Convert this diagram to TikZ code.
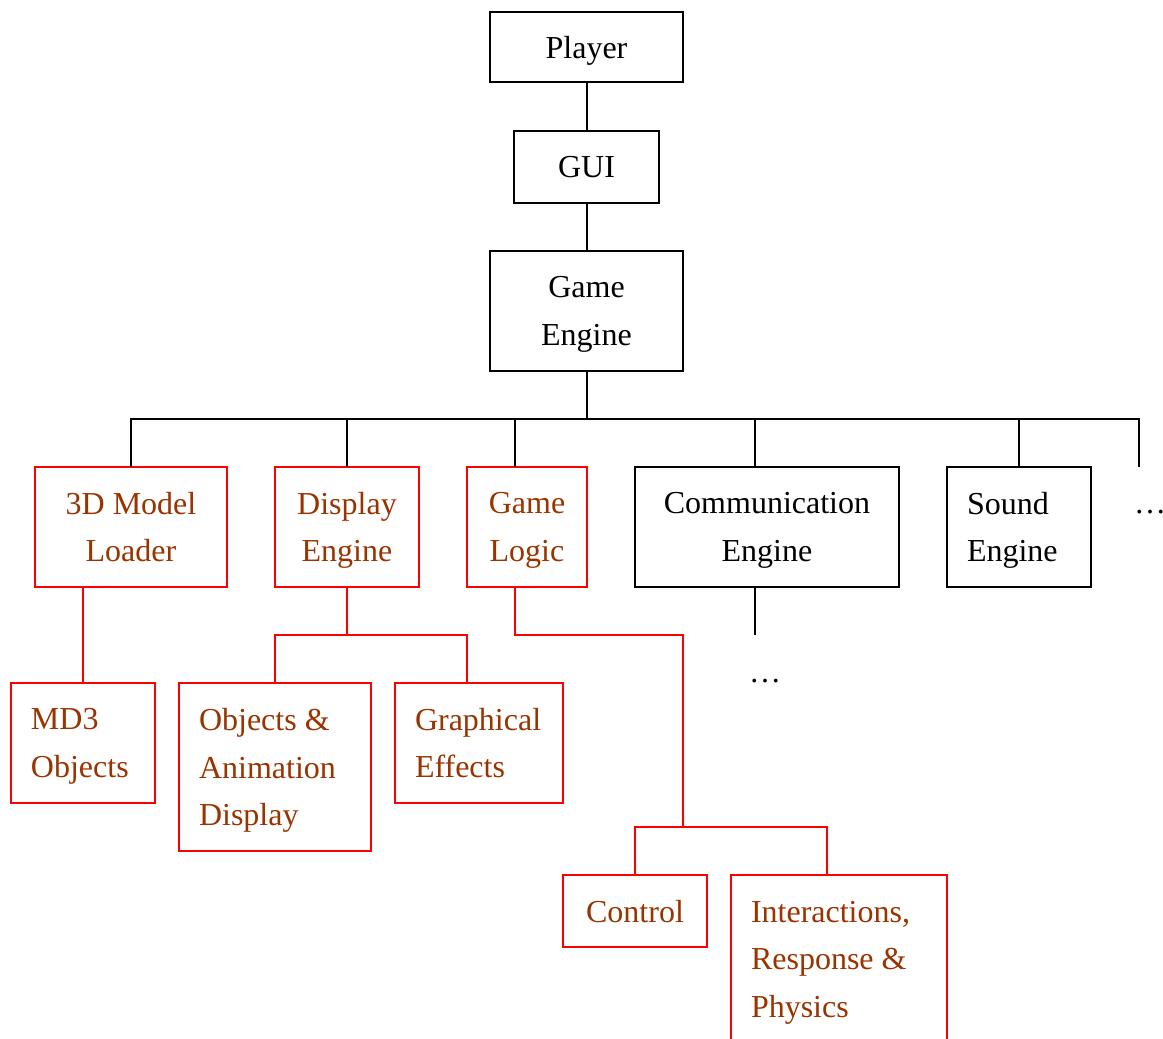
\documentclass[tikz,border=0pt]{standalone}
\usepackage{fontspec}
\setmainfont{Liberation Serif}

\definecolor{boxred}{RGB}{255,0,0}
\definecolor{labelbrown}{RGB}{153,51,0}

\begin{document}
\begin{tikzpicture}[x=0.5pt, y=-0.5pt,
  font=\fontsize{16}{23.75}\selectfont,
  box/.style={draw, line width=1pt, inner sep=0pt, outer sep=0pt,
    minimum height=60pt, align=center, text depth=0pt},
  % left-set text: depth down to the last baseline
  lbox/.style={align=flush left, inner xsep=10pt, text depth=23.75pt},
  lbox3/.style={lbox, text depth=47.5pt},
  sub/.style={box, draw=boxred, text=labelbrown},
  link/.style={line width=1pt},
  sublink/.style={link, draw=boxred}]

% Frame (pixel units, y downwards)
\useasboundingbox (0,0) rectangle (1163,1039);

% Top chain
\node[box, minimum width=96.5pt, minimum height=35pt] (player) at (586.5,47) {Player};
\node[box, minimum width=72.5pt, minimum height=36pt] (gui) at (586.5,167) {GUI};
\node[box, minimum width=96.5pt] (engine) at (586.5,311) {Game\\Engine};

\draw[link] (player.south) -- (gui.north);
\draw[link] (gui.south) -- (engine.north);

% Modules
\node[sub, minimum width=96pt] (loader) at (131,527) {3D Model\\Loader};
\node[sub, minimum width=72pt] (display) at (347,527) {Display\\Engine};
\node[sub, minimum width=60pt] (logic) at (527,527) {Game\\Logic};
\node[box, minimum width=132pt] (comm) at (767,527) {Communication\\Engine};
\node[box, lbox, text width=52pt] (sound) at (1019,527) {Sound\\Engine};
\node[anchor=base] (moredots) at (1150,513) {…};

% Bus below the engine
\coordinate (bus) at (586.5,419);
\coordinate (busend) at (1139,419);
\coordinate (moreend) at (1139,467);
\draw[link] (engine.south) -- (bus);
\draw[link] (loader.north) |- (busend) -- (moreend);
\draw[link] (display.north) |- (bus);
\draw[link] ([xshift=-6pt]logic.north) |- (bus);
\draw[link] ([xshift=-6pt]comm.north) |- (bus);
\draw[link] (sound.north) |- (bus);

% Loader parts
\node[sub, lbox, text width=52pt] (md3) at (83,743) {MD3\\Objects};
\draw[sublink] (loader.south -| md3.north) -- (md3.north);

% Display parts
\node[sub, lbox3, text width=76pt, minimum height=84pt] (objanim) at (275,767) {Objects \&\\Animation\\Display};
\node[sub, lbox, text width=64pt] (gfx) at (479,743) {Graphical\\Effects};
\draw[sublink] (display.south) -- ++(0,48) coordinate (dbus);
\draw[sublink] (objanim.north) |- (dbus) -| ([xshift=-6pt]gfx.north);

% Logic parts
\node[sub, minimum width=72pt, minimum height=36pt] (control) at (635,911) {Control};
\node[sub, lbox3, text width=88pt, minimum height=84pt] (interact) at (839,959) {Interactions,\\Response \&\\Physics};
\coordinate (lsplit) at (683,827);
\draw[sublink] ([xshift=-6pt]logic.south) -- ++(0,48) -| (lsplit);
\draw[sublink] (control.north) |- (lsplit) -| ([xshift=-6pt]interact.north);

% Communication parts
\draw[link] ([xshift=-6pt]comm.south) -- ++(0,48) coordinate (cend);
\node[anchor=base] (commdots) at (765,682) {…};

\end{tikzpicture}
\end{document}
